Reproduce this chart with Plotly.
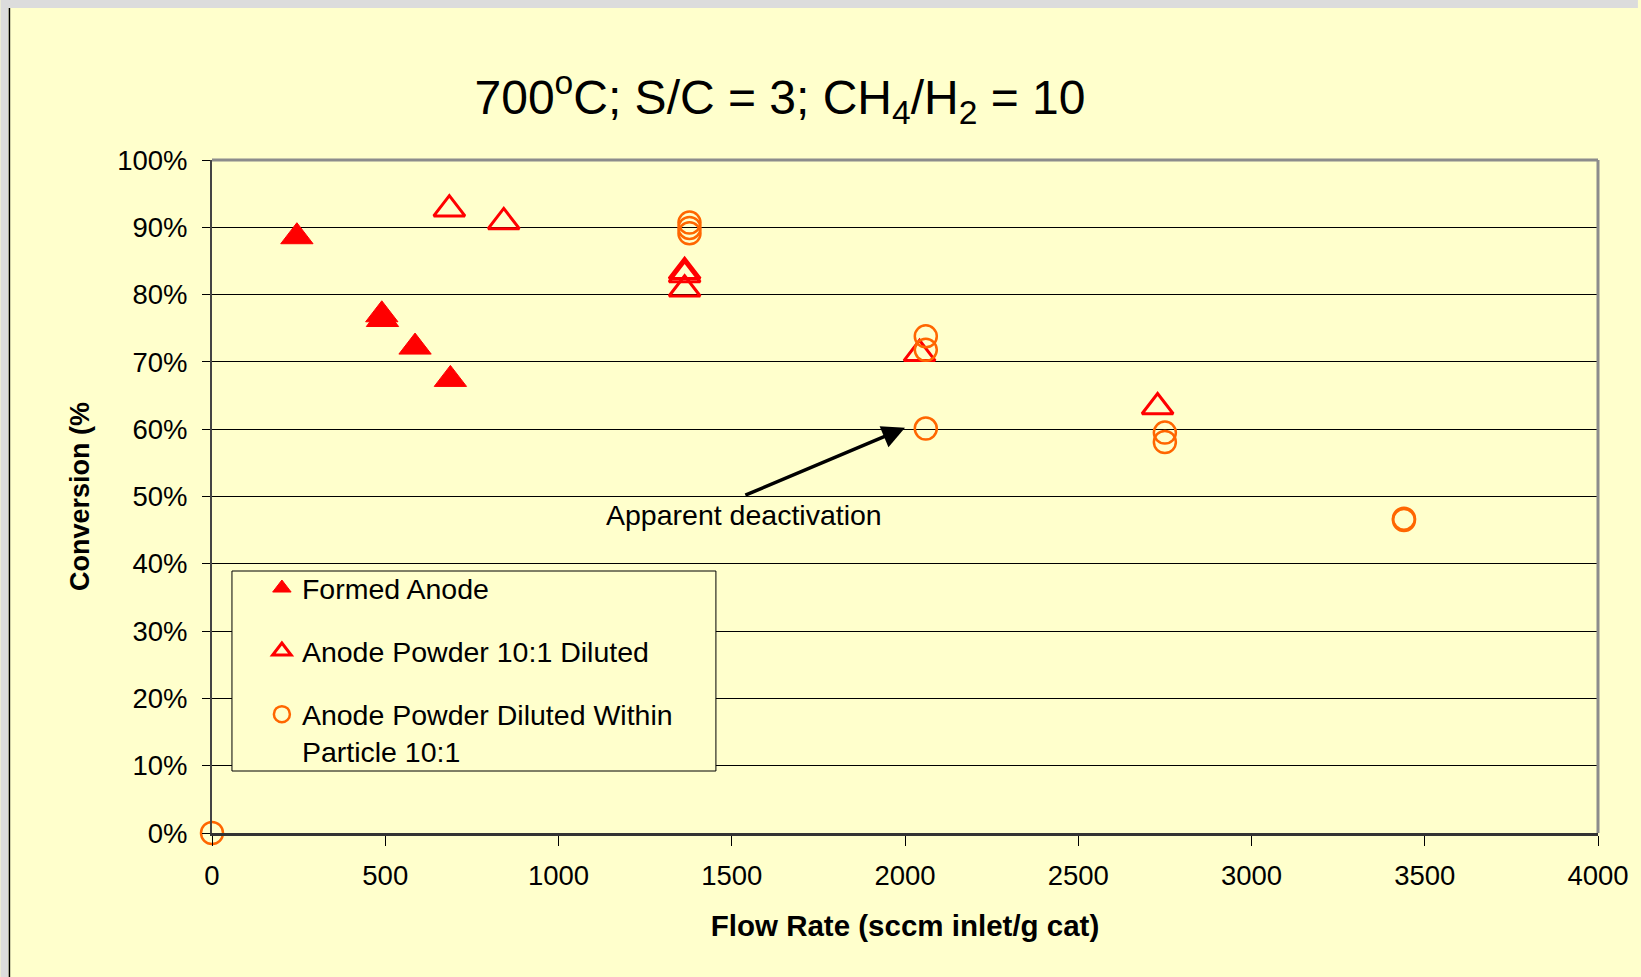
import plotly.graph_objects as go

# ---- data ----
formed_x = [245, 490, 492, 586, 688]
formed_y = [88.6, 77.0, 76.3, 72.2, 67.4]

powder_x = [685, 842, 1364, 1364, 1364, 2042, 2729]
powder_y = [92.7, 90.8, 83.4, 82.9, 80.8, 71.2, 63.3]

within_x = [0, 1378, 1378, 1378, 2060, 2060, 2060, 2750, 2750, 3440, 3440]
within_y = [0, 90.7, 89.9, 89.1, 73.8, 71.8, 60.1, 59.5, 58.1, 46.7, 46.5]

names = ["Formed Anode", "Anode Powder 10:1 Diluted",
         "Anode Powder Diluted Within<br>Particle 10:1"]

x_ticks = [0, 500, 1000, 1500, 2000, 2500, 3000, 3500, 4000]
y_ticks = [0, 10, 20, 30, 40, 50, 60, 70, 80, 90, 100]

title_text = "700<sup>o</sup>C; S/C = 3; CH<sub>4</sub>/H<sub>2</sub> = 10"
x_title = "Flow Rate (sccm inlet/g cat)"
y_title = "Conversion (%"
note_text = "Apparent deactivation"
note_head = (2000, 60.2)
note_tail = (1535, 50.1)
note_pos = (1535, 47.2)

# ---- styling ----
BG = "#FFFFCC"
RED = "#FF0000"
ORANGE = "#FF6600"
FONT = "Liberation Sans, Arial, sans-serif"

W, H = 1641, 977
L, R, T, B = 212, 40, 160, 144
pw, ph = W - L - R, H - T - B


def px(xpix):
    return (xpix - L) / pw


def py(ypix):
    return (H - B - ypix) / ph


fig = go.Figure()
fig.add_trace(go.Scatter(
    x=formed_x, y=formed_y, mode="markers", name=names[0], legendgroup="a",
    marker=dict(symbol="triangle-up", size=28, color=RED,
                line=dict(color=RED, width=1)),
    cliponaxis=False))
fig.add_trace(go.Scatter(
    x=powder_x, y=powder_y, mode="markers", name=names[1], legendgroup="b",
    marker=dict(symbol="triangle-up-open", size=27, color=RED,
                line=dict(color=RED, width=3)),
    cliponaxis=False))
fig.add_trace(go.Scatter(
    x=within_x, y=within_y, mode="markers", name=names[2], legendgroup="c",
    marker=dict(symbol="circle-open", size=22, color=ORANGE,
                line=dict(color=ORANGE, width=2.5)),
    cliponaxis=False))

shapes = [
    dict(type="rect", xref="paper", yref="paper", x0=px(0), x1=px(W),
         y0=py(8), y1=py(0), fillcolor="#DCDCDC", line=dict(width=0), layer="below"),
    dict(type="rect", xref="paper", yref="paper", x0=px(0), x1=px(8),
         y0=py(H), y1=py(8), fillcolor="#DCDCDC", line=dict(width=0), layer="below"),
    dict(type="line", xref="paper", yref="paper", x0=px(9), x1=px(9),
         y0=py(H), y1=py(8), line=dict(color="#000000", width=1.5), layer="below"),
    dict(type="line", xref="paper", yref="paper", x0=0, x1=1, y0=1, y1=1,
         line=dict(color="#8C8C8C", width=3)),
    dict(type="line", xref="paper", yref="paper", x0=1, x1=1, y0=0, y1=1,
         line=dict(color="#8C8C8C", width=3)),
    dict(type="rect", xref="paper", yref="paper", x0=px(232), x1=px(717),
         y0=py(771), y1=py(571), fillcolor=BG, line=dict(color="#000000", width=1),
         layer="above"),
]

fig.update_layout(
    width=W, height=H,
    margin=dict(l=L, r=R, t=T, b=B),
    paper_bgcolor=BG, plot_bgcolor=BG,
    font=dict(family=FONT, color="#000000", size=27),
    title=dict(text=title_text, x=780 / W, xanchor="center",
               y=1 - 97 / H, yanchor="middle", yref="container",
               font=dict(size=48, family=FONT, color="#000000")),
    showlegend=True,
    legend=dict(x=px(262), y=py(563), xanchor="left", yanchor="top",
                bgcolor="rgba(0,0,0,0)", borderwidth=0,
                font=dict(size=28.5, family=FONT), tracegroupgap=23,
                valign="top", itemwidth=30),
    shapes=shapes,
    annotations=[
        dict(x=note_head[0], y=note_head[1], ax=note_tail[0], ay=note_tail[1],
             xref="x", yref="y", axref="x", ayref="y",
             text="", showarrow=True, arrowhead=2, arrowsize=1.3,
             arrowwidth=3.5, arrowcolor="#000000"),
        dict(x=note_pos[0], y=note_pos[1], xref="x", yref="y",
             text=note_text, showarrow=False,
             font=dict(size=28.5, family=FONT, color="#000000")),
    ],
)

fig.update_xaxes(
    range=[0, 4000], tickvals=x_ticks, ticktext=[str(v) for v in x_ticks],
    showgrid=False, zeroline=False,
    showline=True, linecolor="#333333", linewidth=3,
    ticks="outside", ticklen=10, tickwidth=1, tickcolor="#000000",
    ticklabelstandoff=6,
    tickfont=dict(size=27.5, family=FONT),
    title=dict(text="<b>" + x_title + "</b>", standoff=26,
               font=dict(size=29.5, family=FONT)))
fig.update_yaxes(
    range=[0, 100], tickvals=y_ticks, ticktext=[f"{v}%" for v in y_ticks],
    showgrid=True, gridcolor="#000000", gridwidth=1, zeroline=False,
    showline=True, linecolor="#444444", linewidth=2,
    ticks="outside", ticklen=8, tickwidth=1, tickcolor="#000000",
    ticklabelstandoff=9,
    tickfont=dict(size=27.5, family=FONT),
    title=dict(text="<b>" + y_title + "</b>", standoff=20,
               font=dict(size=27, family=FONT)))

fig.write_html("out.html")
